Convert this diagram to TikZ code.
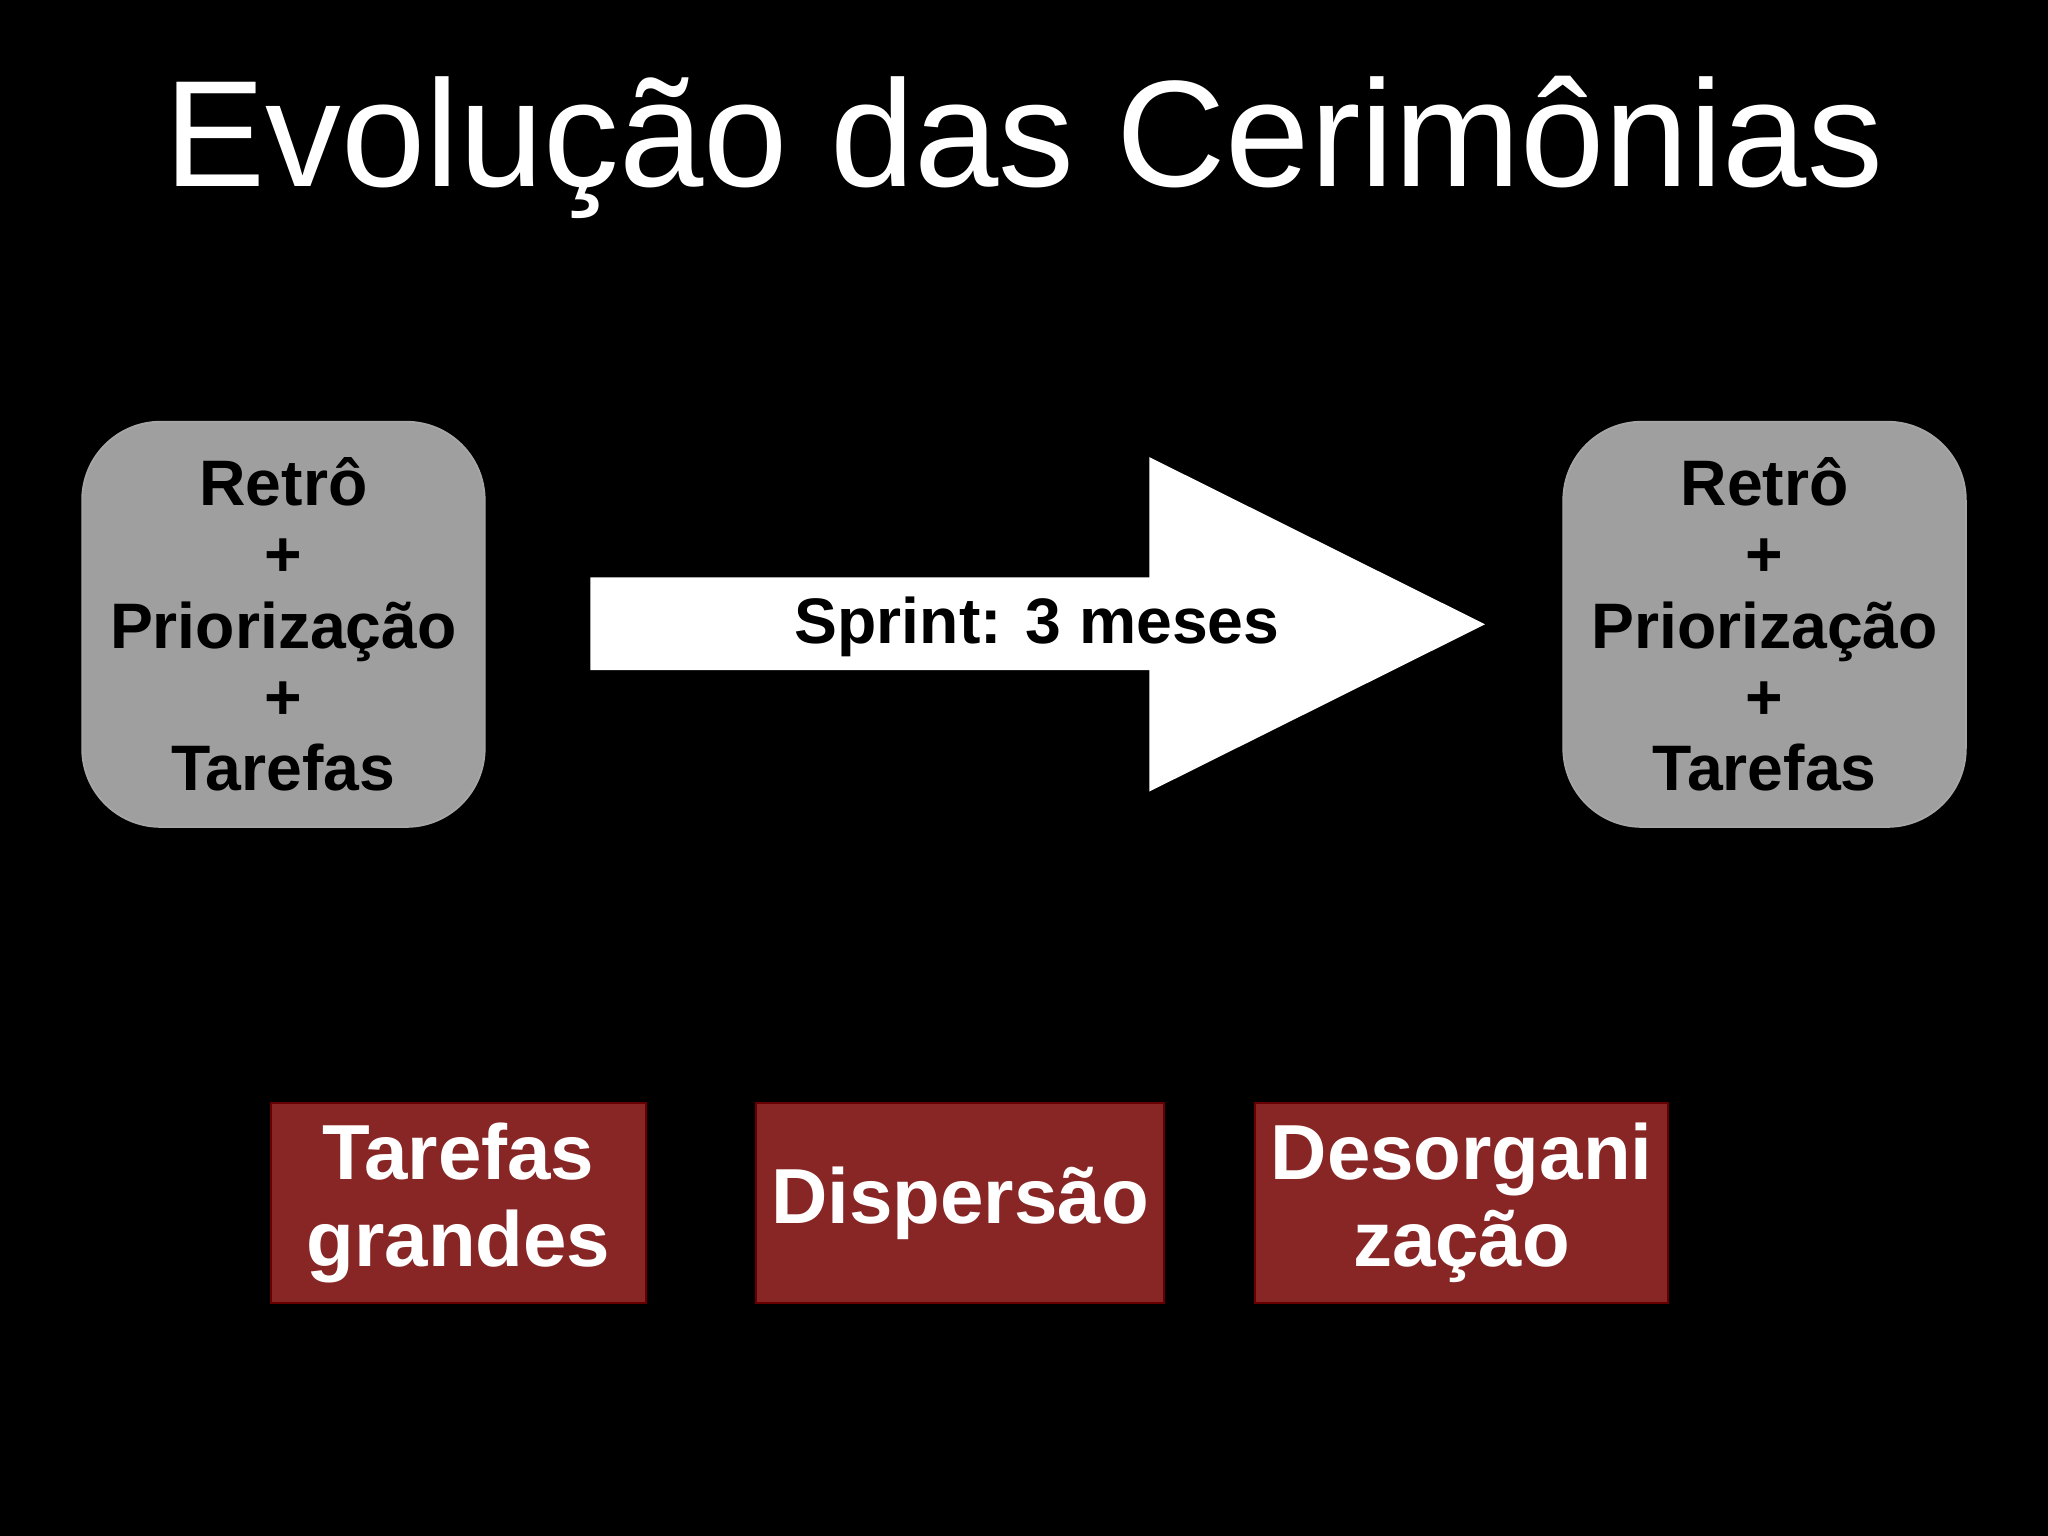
\documentclass[tikz,border=0pt]{standalone}
\usepackage{fontspec}
\setmainfont{Liberation Sans}
\begin{document}
\begin{tikzpicture}[x=0.01cm,y=-0.01cm,
  graybox/.style={draw=gray!70,fill=gray!75,rounded corners=0.6cm,minimum width=3.08cm,minimum height=3.1cm,align=center,font=\bfseries\fontsize{14}{15.5}\selectfont,text=black},
  redbox/.style={fill=red!45!black!85,draw=red!40!black,minimum width=2.87cm,minimum height=1.53cm,align=center,text=white,font=\bfseries\fontsize{17}{19}\selectfont}]
\fill[black] (0,0) rectangle (1568,1176);
\node[text=white,font=\fontsize{33}{36}\selectfont] (title) at (784,113) {Evolução das Cerimônias};
\node[graybox] (l) at (217,478) {Retrô\\+\\Priorização\\+\\Tarefas};
\node[graybox] (r) at (1351,478) {Retrô\\+\\Priorização\\+\\Tarefas};
\fill[white] (452,442) -- (880,442) -- (880,350) -- (1137,478) -- (880,606) -- (880,513) -- (452,513) -- cycle;
\node[font=\bfseries\fontsize{14}{16}\selectfont] (s) at (794,480) {Sprint: 3 meses};
\node[redbox] (a) at (351,921) {Tarefas\\grandes};
\node[redbox] (b) at (735,921) {Dispersão};
\node[redbox] (c) at (1119,921) {Desorgani\\zação};
\end{tikzpicture}
\end{document}
